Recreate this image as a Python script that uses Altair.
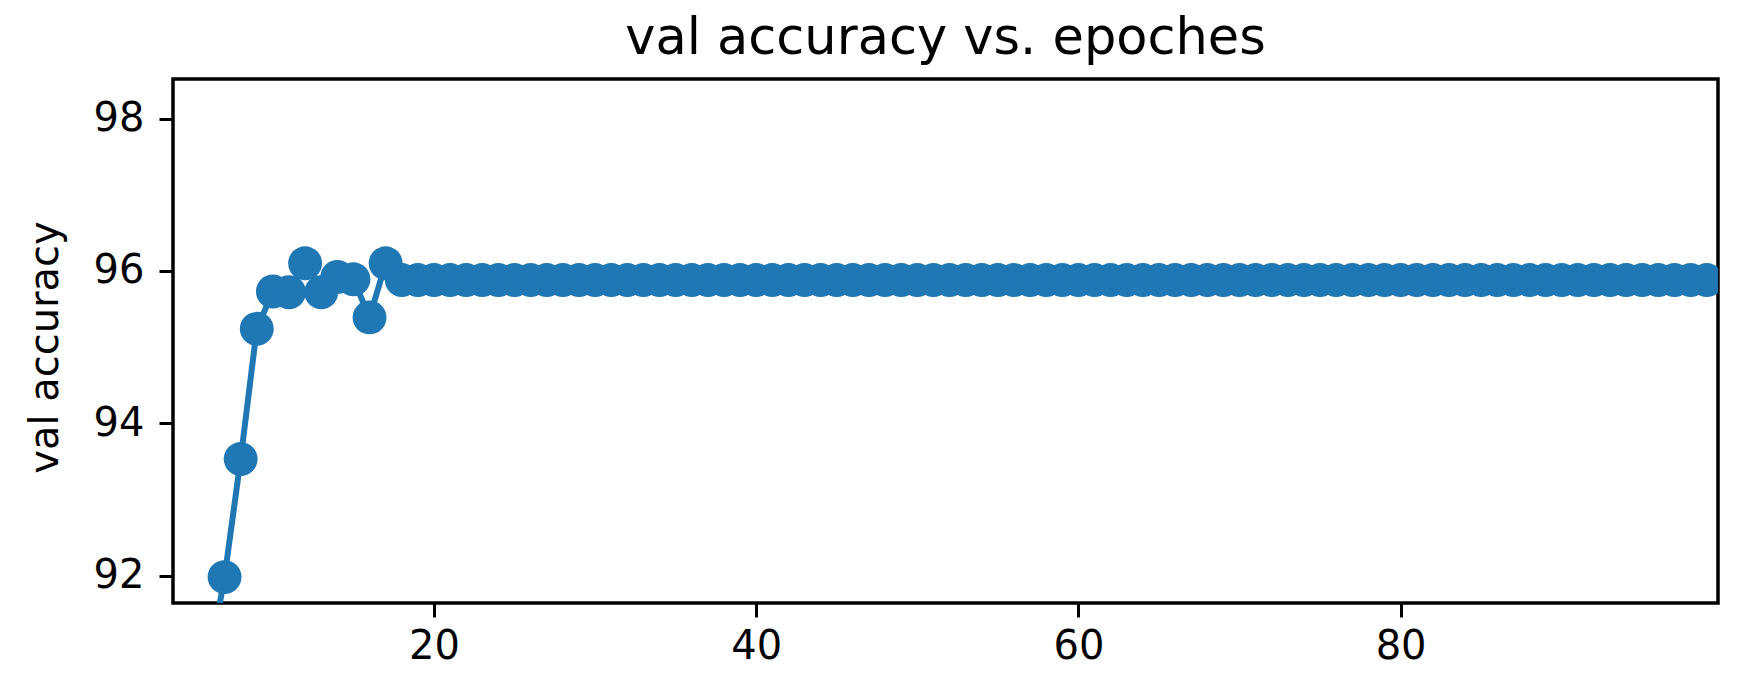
import altair as alt
import pandas as pd

epochs = list(range(6, 100))
val_accuracy = [
    90.80, 91.98, 93.53, 95.24, 95.73, 95.72, 96.10, 95.72, 95.92, 95.89,
    95.39, 96.10,
    95.88, 95.88, 95.88, 95.88, 95.88, 95.88, 95.88, 95.88, 95.88, 95.88,
    95.88, 95.88, 95.88, 95.88, 95.88, 95.88, 95.88, 95.88, 95.88, 95.88,
    95.88, 95.88, 95.88, 95.88, 95.88, 95.88, 95.88, 95.88, 95.88, 95.88,
    95.88, 95.88, 95.88, 95.88, 95.88, 95.88, 95.88, 95.88, 95.88, 95.88,
    95.88, 95.88, 95.88, 95.88, 95.88, 95.88, 95.88, 95.88, 95.88, 95.88,
    95.88, 95.88, 95.88, 95.88, 95.88, 95.88, 95.88, 95.88, 95.88, 95.88,
    95.88, 95.88, 95.88, 95.88, 95.88, 95.88, 95.88, 95.88, 95.88, 95.88,
    95.88, 95.88, 95.88, 95.88, 95.88, 95.88, 95.88, 95.88, 95.88, 95.88,
    95.88, 95.88,
]
x_ticks = [20, 40, 60, 80]
y_ticks = [92, 94, 96, 98]
x_domain = [3.8, 99.7]
y_domain = [91.64, 98.52]

df = pd.DataFrame({"epoch": epochs, "acc": val_accuracy})

FONT = "DejaVu Sans"
COLOR = "#1f77b4"

x_enc = alt.X(
    "epoch:Q",
    scale=alt.Scale(domain=x_domain, nice=False, zero=False),
    axis=alt.Axis(values=x_ticks, title=None, grid=False, domain=False,
                  ticks=True, tickSize=14, tickWidth=3, tickColor="black",
                  labelFontSize=40, labelFont=FONT, labelColor="black",
                  labelPadding=9, labelFlush=False),
)
y_enc = alt.Y(
    "acc:Q",
    scale=alt.Scale(domain=y_domain, nice=False, zero=False),
    axis=alt.Axis(values=y_ticks, title="val accuracy", grid=False, domain=False,
                  ticks=True, tickSize=14, tickWidth=3, tickColor="black",
                  labelFontSize=40, labelFont=FONT, labelColor="black",
                  labelPadding=15, labelFlush=False,
                  titleFont=FONT, titleFontSize=40, titleFontWeight="normal",
                  titleColor="black", titleX=-128, titleY=268,
                  titleAngle=270, titleAlign="center", titleBaseline="middle"),
)

line = alt.Chart(df).mark_line(color=COLOR, strokeWidth=6, clip=True).encode(x=x_enc, y=y_enc)
pts = alt.Chart(df).mark_point(
    filled=True, shape="circle", color=COLOR, size=1150, opacity=1, clip=True
).encode(x=x_enc, y=y_enc)

chart = (
    alt.layer(line, pts)
    .properties(
        width=1545,
        height=524,
        autosize=alt.AutoSizeParams(type="none"),
        padding={"left": 165, "top": 71, "right": 13, "bottom": 80},
        title=alt.Title("val accuracy vs. epoches", font=FONT, fontSize=51,
                        fontWeight="normal", color="black", anchor="middle",
                        offset=14),
    )
    .configure(background="white", view=alt.ViewConfig(stroke="black", strokeWidth=3.5))
)

chart.save("out.html", embed_options={"renderer": "svg", "actions": False})
